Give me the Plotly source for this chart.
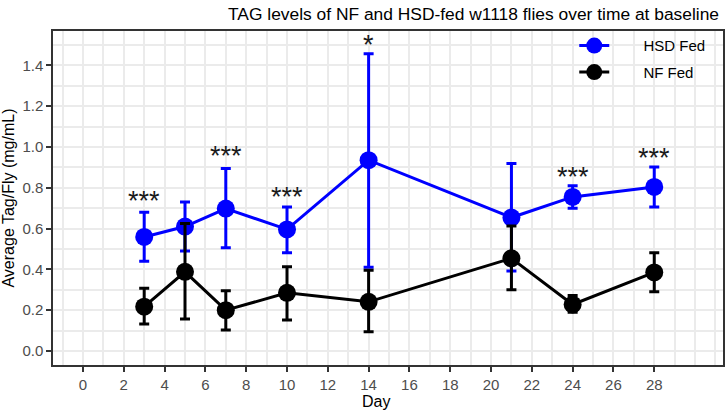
import plotly.graph_objects as go

days = [3, 5, 7, 10, 14, 21, 24, 28]

hsd_mean = [0.559, 0.610, 0.698, 0.596, 0.935, 0.654, 0.755, 0.804]
hsd_upper = [0.680, 0.730, 0.894, 0.706, 1.457, 0.919, 0.810, 0.902]
hsd_lower = [0.440, 0.490, 0.506, 0.481, 0.410, 0.392, 0.700, 0.706]

nf_mean = [0.217, 0.388, 0.200, 0.285, 0.241, 0.454, 0.228, 0.385]
nf_upper = [0.307, 0.625, 0.295, 0.413, 0.396, 0.612, 0.272, 0.481]
nf_lower = [0.132, 0.157, 0.103, 0.152, 0.094, 0.300, 0.190, 0.290]

star_days = [3, 7, 10, 14, 24, 28]
star_labels = ["***", "***", "***", "*", "***", "***"]
star_y = [0.755, 0.976, 0.775, 1.520, 0.870, 0.967]

x_ticks = list(range(0, 29, 2))
y_ticks = [0.0, 0.2, 0.4, 0.6, 0.8, 1.0, 1.2, 1.4]

FONT = "Liberation Sans, Arial, Helvetica, sans-serif"
PAD = "\u00a0" * 7


def err(mean, upper, lower):
    plus = [u - m for u, m in zip(upper, mean)]
    minus = [m - l for m, l in zip(mean, lower)]
    return plus, minus


fig = go.Figure()
for name, color, mean, upper, lower in [
    ("HSD Fed", "#0000FF", hsd_mean, hsd_upper, hsd_lower),
    ("NF Fed", "#000000", nf_mean, nf_upper, nf_lower),
]:
    plus, minus = err(mean, upper, lower)
    fig.add_trace(go.Scatter(
        x=days, y=mean, name=PAD + name, mode="lines+markers", legendgroup=name,
        line=dict(color=color, width=3),
        marker=dict(color=color, size=18),
        error_y=dict(type="data", symmetric=False, array=plus, arrayminus=minus,
                     color=color, thickness=3, width=5),
    ))

for d, lab, y in zip(star_days, star_labels, star_y):
    fig.add_annotation(x=d, y=y, text=lab, showarrow=False,
                       font=dict(family=FONT, size=27, color="#1a1a1a"),
                       xanchor="center", yanchor="middle", yshift=-4)

# x-axis title
fig.add_annotation(x=(376 - 53) / 670, xref="paper", y=0, yref="paper",
                   yshift=-36, text="Day", showarrow=False,
                   xanchor="center", yanchor="middle",
                   font=dict(family=FONT, size=16, color="black"))

grid = "#EBEBEB"
fig.update_layout(
    width=725, height=412,
    margin=dict(l=53, r=2, t=31, b=47, autoexpand=False),
    paper_bgcolor="white", plot_bgcolor="white",
    font=dict(family=FONT, color="#4D4D4D", size=13),
    title=dict(text="TAG levels of NF and HSD-fed w1118 flies over time at baseline",
               font=dict(family=FONT, size=17.4, color="black"),
               x=719 / 725, xanchor="right", xref="container",
               y=1 - 14 / 412, yanchor="middle", yref="container"),
    showlegend=True,
    legend=dict(x=0.778, y=1.005, xanchor="left", yanchor="top",
                bgcolor="rgba(255,255,255,0)",
                font=dict(family=FONT, size=15, color="black"),
                tracegroupgap=4, itemsizing="trace"),
    xaxis=dict(
        range=[-1.47, 31.37], tickmode="array", tickvals=x_ticks,
        ticktext=[str(v) for v in x_ticks], automargin=False,
        showgrid=True, gridcolor=grid, gridwidth=2,
        minor=dict(dtick=1, tick0=0, showgrid=True, gridcolor=grid, gridwidth=2, ticks=""),
        ticks="outside", ticklen=5, tickwidth=2, tickcolor="#333333",
        showline=True, linecolor="#333333", linewidth=1.5, mirror=True,
        zeroline=False,
        tickfont=dict(family=FONT, size=15, color="#4D4D4D"),
    ),
    yaxis=dict(
        range=[-0.0685, 1.568], tickmode="array", tickvals=y_ticks,
        ticktext=[f"{v:.1f}" for v in y_ticks], automargin=False,
        showgrid=True, gridcolor=grid, gridwidth=2,
        minor=dict(dtick=0.1, tick0=0, showgrid=True, gridcolor=grid, gridwidth=2, ticks=""),
        ticks="outside", ticklen=5, tickwidth=2, tickcolor="#333333",
        showline=True, linecolor="#333333", linewidth=1.5, mirror=True,
        zeroline=False,
        tickfont=dict(family=FONT, size=15, color="#4D4D4D"),
        title=dict(text="Average Tag/Fly (mg/mL)", font=dict(family=FONT, size=16, color="black"), standoff=4),
    ),
)

fig.write_html(
    "out.html",
    config={"displayModeBar": False},
    post_script="document.body.style.margin='0';document.body.style.padding='0';document.body.style.overflow='hidden';",
)
